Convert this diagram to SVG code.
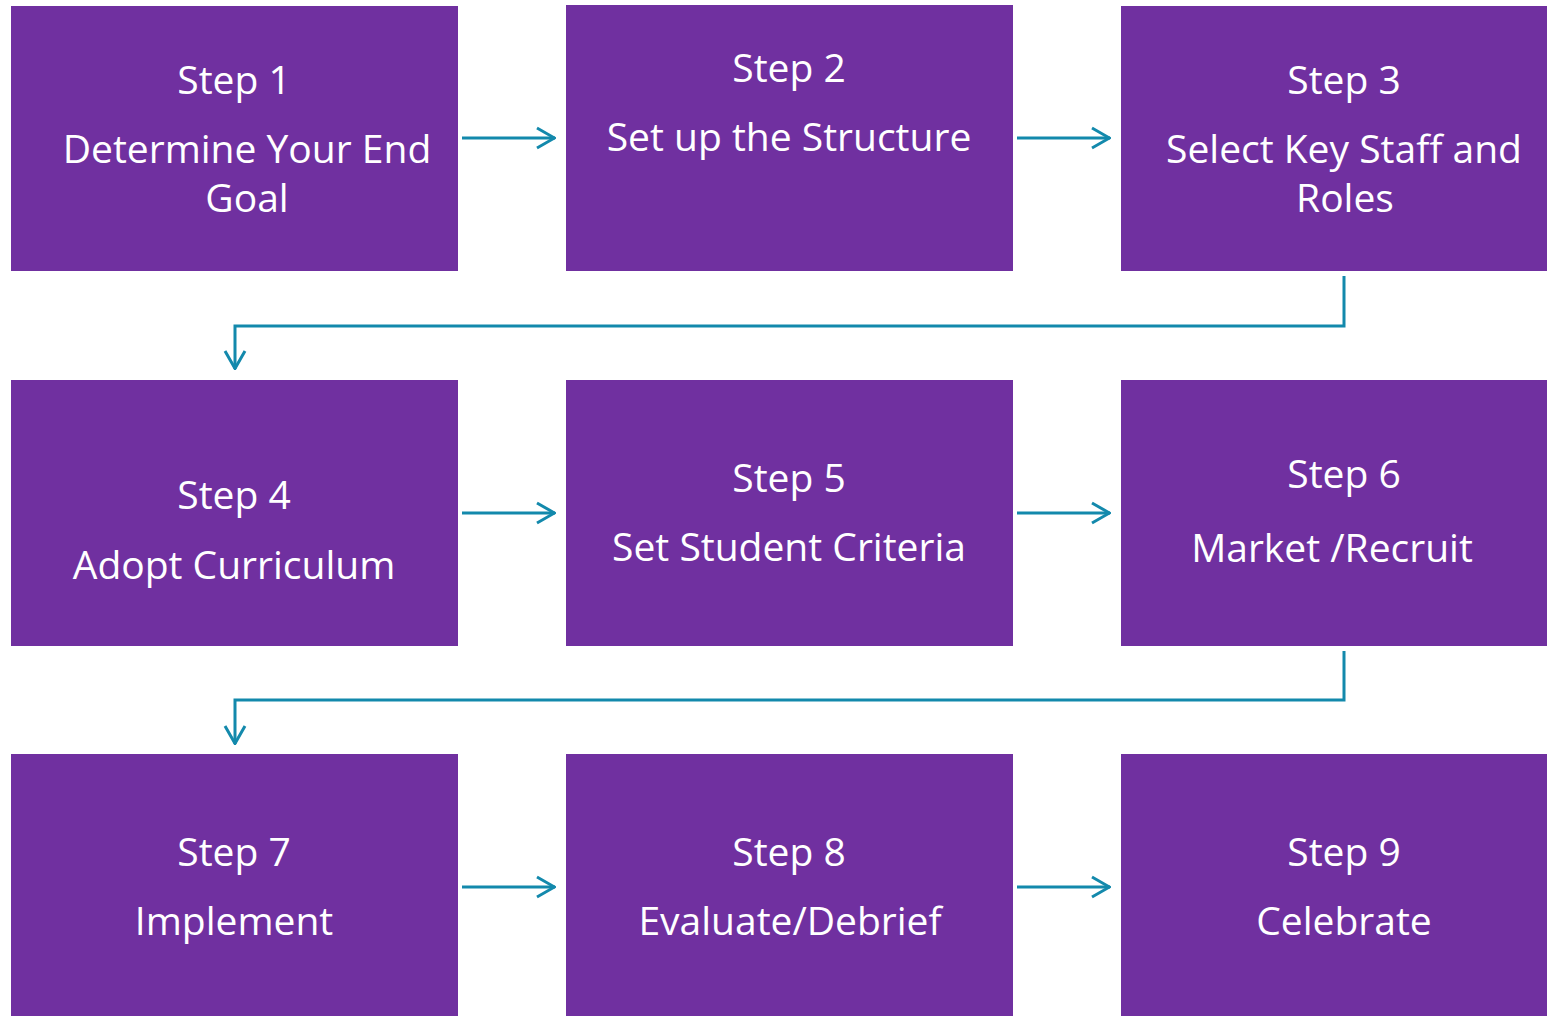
<svg xmlns="http://www.w3.org/2000/svg" width="1547" height="1016" viewBox="0 0 1547 1016">
<defs>
<style>
.box{fill:#7030A0;}
.t{font-family:"Open Sans","Noto Sans","Liberation Sans",sans-serif;font-size:39px;fill:#FFFFFF;text-anchor:middle;}
.c{fill:none;stroke:#1389AC;stroke-width:3;}
</style>
<marker id="ah" viewBox="0 0 20 24" refX="19" refY="12" markerWidth="20" markerHeight="24" markerUnits="userSpaceOnUse" orient="auto">
<path d="M1,2 L18.5,12 L1,22" fill="none" stroke="#1389AC" stroke-width="3"/>
</marker>
</defs>
<rect width="1547" height="1016" fill="#FFFFFF"/>
<g id="step1"><rect class="box" x="11" y="6" width="447" height="265"/><text class="t" x="234" y="94">Step 1</text><text class="t" x="247" y="163">Determine Your End</text><text class="t" x="247" y="212">Goal</text></g>
<g id="step2"><rect class="box" x="566" y="5" width="447" height="266"/><text class="t" x="789" y="82">Step 2</text><text class="t" x="789" y="151">Set up the Structure</text></g>
<g id="step3"><rect class="box" x="1121" y="6" width="426" height="265"/><text class="t" x="1344" y="94">Step 3</text><text class="t" x="1344" y="163">Select Key Staff and</text><text class="t" x="1345" y="212">Roles</text></g>
<g id="step4"><rect class="box" x="11" y="380" width="447" height="266"/><text class="t" x="234" y="509">Step 4</text><text class="t" x="234" y="579">Adopt Curriculum</text></g>
<g id="step5"><rect class="box" x="566" y="380" width="447" height="266"/><text class="t" x="789" y="492">Step 5</text><text class="t" x="789" y="561">Set Student Criteria</text></g>
<g id="step6"><rect class="box" x="1121" y="380" width="426" height="266"/><text class="t" x="1344" y="488">Step 6</text><text class="t" x="1332" y="562">Market /Recruit</text></g>
<g id="step7"><rect class="box" x="11" y="754" width="447" height="262"/><text class="t" x="234" y="866">Step 7</text><text class="t" x="234" y="935">Implement</text></g>
<g id="step8"><rect class="box" x="566" y="754" width="447" height="262"/><text class="t" x="789" y="866">Step 8</text><text class="t" x="790" y="935">Evaluate/Debrief</text></g>
<g id="step9"><rect class="box" x="1121" y="754" width="426" height="262"/><text class="t" x="1344" y="866">Step 9</text><text class="t" x="1344" y="935">Celebrate</text></g>
<g id="connectors">
<path class="c" d="M462,138 H555" marker-end="url(#ah)"/>
<path class="c" d="M1017,138 H1110" marker-end="url(#ah)"/>
<path class="c" d="M1344,276 V326 H235 V369" marker-end="url(#ah)"/>
<path class="c" d="M462,513 H555" marker-end="url(#ah)"/>
<path class="c" d="M1017,513 H1110" marker-end="url(#ah)"/>
<path class="c" d="M1344,651 V700 H235 V744" marker-end="url(#ah)"/>
<path class="c" d="M462,887 H555" marker-end="url(#ah)"/>
<path class="c" d="M1017,887 H1110" marker-end="url(#ah)"/>
</g>
</svg>
